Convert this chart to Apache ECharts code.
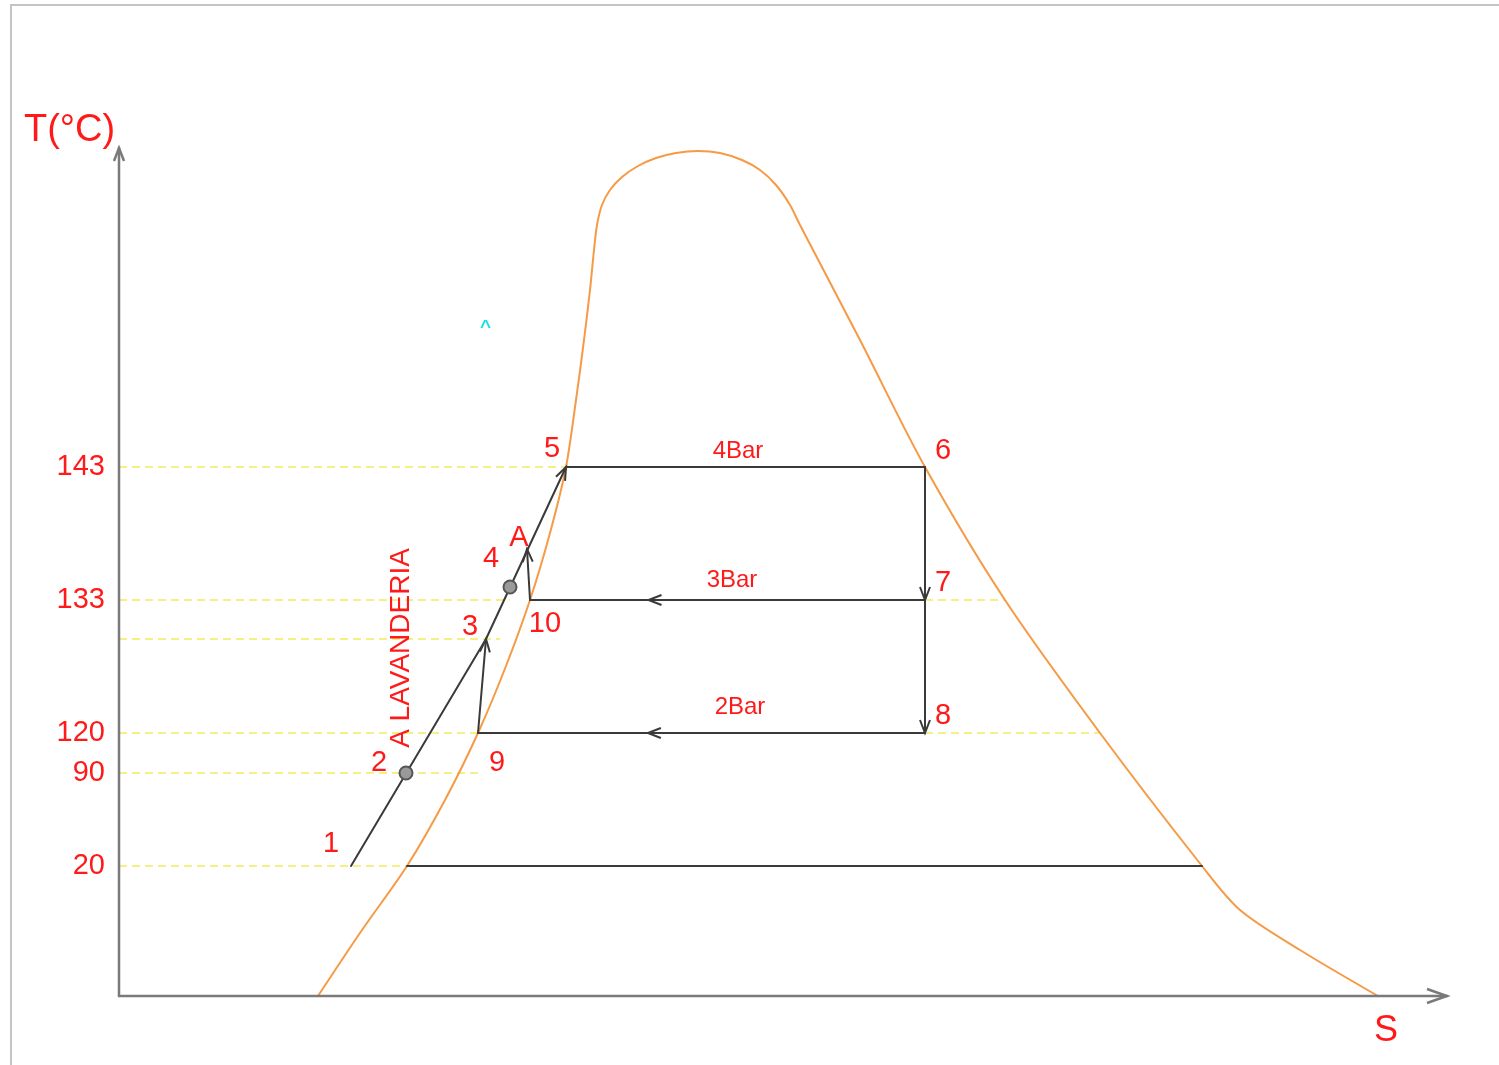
<!DOCTYPE html>
<html>
<head>
<meta charset="utf-8">
<title>Diagrama T-S</title>
<script src="https://cdn.jsdelivr.net/npm/echarts@6/dist/echarts.min.js"></script>
<style>
  html, body { margin: 0; padding: 0; background: #ffffff; }
  #chart { width: 1499px; height: 1065px; }
</style>
</head>
<body>
<div id="chart"></div>
<script>
// ---- Saturation dome (entropy S, schematic temperature height) ----
const domeS = [199, 243, 288, 326, 359, 387, 411, 431, 447, 457, 465, 471, 475, 478, 483, 491, 503, 519, 537, 557, 579, 601, 623, 641, 657, 671, 681, 741, 806, 886, 981, 1083, 1121, 1181, 1259];
const domeT = [0, 66, 130, 196, 263, 330, 396, 463, 529, 596, 656, 706, 746, 771, 791, 806, 819, 830, 838, 843, 845, 843, 836, 826, 811, 791, 771, 656, 529, 396, 263, 130, 86, 46, 0];

// ---- Temperature levels shown on the T axis ----
const tempLabels = ['143', '133', '120', '90', '20'];
const tempLevels = [529, 396, 263, 223, 130];

// ---- Cycle state points ----
const stateNames = ['1', '2', '3', '4', 'A', '5', '6', '7', '8', '9', '10'];
const stateS = [232, 287, 367, 391, 408, 447, 806, 806, 806, 359, 411];
const stateT = [130, 223, 357, 409, 447, 529, 529, 396, 263, 263, 396];

// ---- Cycle paths: from state, to state, arrow position along the path (0 = none) ----
const pathFrom = ['1', '3', '9', '10', '5', '6', '7', '7', '8'];
const pathTo = ['3', '5', '3', 'A', '6', '7', '8', '10', '9'];
const pathArrow = [0, 1, 1, 1, 0, 1, 1, 0.7, 0.62];

// ---- 20 °C isotherm across the dome ----
const iso20S = [288, 1083];
const iso20T = 130;

// ---- Dashed guide lines: level, start S, end S ----
const guideLevel = [529, 396, 357, 263, 223, 130, 396, 263];
const guideFrom = [0, 0, 0, 0, 0, 0, 806, 806];
const guideTo = [447, 391, 381, 359, 359, 288, 886, 981];

// ---- Pressure labels on the isobars ----
const isobarNames = ['4Bar', '3Bar', '2Bar'];
const isobarS = [619, 613, 621];
const isobarT = [529, 396, 263];

// ---- Marked states (circles) ----
const markedStates = ['2', '4'];

// ---- Branch label ----
const branchName = 'A LAVANDERIA';
const branchS = 282;
const branchT = 348;

// ---- Axes extent ----
const sMax = 1328;
const tMax = 848;

// Label placement around each state point (pixels)
const stateLabelOffset = {
  '1': [-20, -22], '2': [-27, -10], '3': [-16, -12], '4': [-19, -28], 'A': [-8, -11],
  '5': [-14, -18], '6': [18, -16], '7': [18, -17], '8': [18, -17], '9': [19, 30], '10': [15, 24]
};
const isobarLabelOffset = { '4Bar': [0, -16], '3Bar': [0, -20], '2Bar': [0, -26] };

const RED = '#ff1a1a';
const FONT = '"Liberation Sans", Arial, sans-serif';

const idx = name => stateNames.indexOf(name);

// Segment renderer: straight line with an open chevron arrow head
function makeSegmentRenderer(color, width, headLen, headHalf) {
  return function (params, api) {
    const p1 = api.coord([api.value(0), api.value(1)]);
    const p2 = api.coord([api.value(2), api.value(3)]);
    const f = api.value(4);
    const children = [{
      type: 'line',
      shape: { x1: p1[0], y1: p1[1], x2: p2[0], y2: p2[1] },
      style: { stroke: color, lineWidth: width, lineCap: 'round' }
    }];
    if (f > 0) {
      const dx = p2[0] - p1[0], dy = p2[1] - p1[1];
      const len = Math.sqrt(dx * dx + dy * dy);
      const ux = dx / len, uy = dy / len;
      const tip = [p1[0] + dx * f, p1[1] + dy * f];
      const bx = tip[0] - ux * headLen, by = tip[1] - uy * headLen;
      children.push({
        type: 'polyline',
        shape: { points: [[bx - uy * headHalf, by + ux * headHalf], tip, [bx + uy * headHalf, by - ux * headHalf]] },
        style: { stroke: color, lineWidth: width, fill: null, lineJoin: 'miter' }
      });
    }
    return { type: 'group', children: children };
  };
}

// Build data
const domeData = domeS.map((s, i) => [s, domeT[i]]);

const cycleData = pathFrom.map((a, i) => {
  const b = pathTo[i];
  return [stateS[idx(a)], stateT[idx(a)], stateS[idx(b)], stateT[idx(b)], pathArrow[i]];
});
cycleData.push([iso20S[0], iso20T, iso20S[1], iso20T, 0]);

const guideSeries = guideLevel.map((lv, i) => ({
  type: 'line',
  data: [[guideFrom[i], lv], [guideTo[i], lv]],
  showSymbol: false,
  silent: true,
  z: 1,
  lineStyle: { color: '#f0ec5c', width: 1.6, type: [8, 5] }
}));

const stateLabelData = stateNames.map((n, i) => ({
  name: n,
  value: [stateS[i], stateT[i]],
  label: { offset: stateLabelOffset[n] }
}));

const markedData = markedStates.map(n => [stateS[idx(n)], stateT[idx(n)]]);

const isobarData = isobarNames.map((n, i) => ({
  name: n,
  value: [isobarS[i], isobarT[i]],
  label: { offset: isobarLabelOffset[n] }
}));

const tempByLevel = {};
tempLevels.forEach((lv, i) => { tempByLevel[lv] = tempLabels[i]; });

const hiddenSymbol = { color: 'rgba(0,0,0,0)', opacity: 1 };

const chart = echarts.init(document.getElementById('chart'), null, { renderer: 'canvas' });

chart.setOption({
  backgroundColor: '#ffffff',
  animation: false,
  grid: { left: 119, right: 52, top: 148, bottom: 69 },
  xAxis: {
    type: 'value', min: 0, max: sMax,
    axisLine: { show: false }, axisTick: { show: false },
    axisLabel: { show: false }, splitLine: { show: false }
  },
  yAxis: {
    type: 'value', min: 0, max: tMax,
    axisLine: { show: false }, axisTick: { show: false }, splitLine: { show: false },
    axisLabel: {
      customValues: tempLevels,
      formatter: v => tempByLevel[v] || '',
      color: RED, fontSize: 29, fontFamily: FONT, margin: 14
    }
  },
  graphic: [
    {
      type: 'polyline', silent: true,
      shape: { points: [[11, 1065], [11, 5], [1499, 5]] },
      style: { stroke: '#c4c4c4', lineWidth: 2, fill: null }
    },
    {
      type: 'text', left: 24, top: 112,
      style: { text: 'T(°C)', fill: RED, font: '38px ' + FONT }
    },
    {
      type: 'text', left: 1374, top: 1013,
      style: { text: 'S', fill: RED, font: '36px ' + FONT }
    },
    {
      type: 'text', left: 480, top: 318,
      style: { text: '^', fill: '#1ee0e0', font: 'bold 19px ' + FONT }
    }
  ],
  series: [
    ...guideSeries,
    {
      name: 'dome',
      type: 'line',
      data: domeData,
      smooth: 0.3,
      showSymbol: false,
      z: 2,
      lineStyle: { color: '#f59a45', width: 2 }
    },
    {
      name: 'axisS',
      type: 'custom',
      renderItem: makeSegmentRenderer('#7a7a7a', 2.5, 20, 7),
      data: [[0, 0, sMax, 0, 1]],
      encode: { x: [0, 2], y: [1, 3] },
      clip: false, silent: true, z: 3
    },
    {
      name: 'axisT',
      type: 'custom',
      renderItem: makeSegmentRenderer('#7a7a7a', 2.5, 13, 5),
      data: [[0, 0, 0, tMax, 1]],
      encode: { x: [0, 2], y: [1, 3] },
      clip: false, silent: true, z: 3
    },
    {
      name: 'cycle',
      type: 'custom',
      renderItem: makeSegmentRenderer('#3a3a3a', 2, 13, 5),
      data: cycleData,
      encode: { x: [0, 2], y: [1, 3] },
      clip: false, silent: true, z: 4
    },
    {
      name: 'marked',
      type: 'scatter',
      data: markedData,
      symbol: 'circle',
      symbolSize: 13,
      z: 5,
      itemStyle: { color: '#9a9a9a', borderColor: '#555555', borderWidth: 2, opacity: 1 }
    },
    {
      name: 'states',
      type: 'scatter',
      data: stateLabelData,
      symbolSize: 1,
      z: 6,
      itemStyle: hiddenSymbol,
      label: {
        show: true, position: 'inside', formatter: '{b}',
        color: RED, fontSize: 29, fontFamily: FONT
      }
    },
    {
      name: 'isobars',
      type: 'scatter',
      data: isobarData,
      symbolSize: 1,
      z: 6,
      itemStyle: hiddenSymbol,
      label: {
        show: true, position: 'inside', formatter: '{b}',
        color: RED, fontSize: 24, fontFamily: FONT
      }
    },
    {
      name: 'branch',
      type: 'scatter',
      data: [{ name: branchName, value: [branchS, branchT] }],
      symbolSize: 1,
      z: 6,
      itemStyle: hiddenSymbol,
      label: {
        show: true, position: 'inside', formatter: '{b}', rotate: 90,
        color: RED, fontSize: 28, fontFamily: FONT
      }
    }
  ]
});
</script>
</body>
</html>
